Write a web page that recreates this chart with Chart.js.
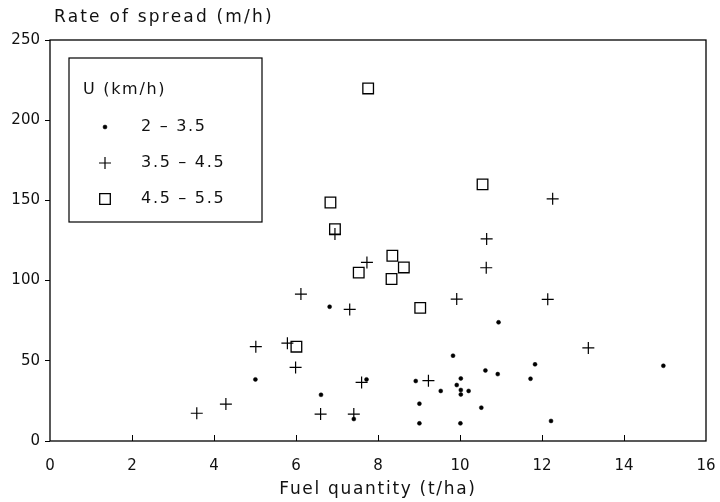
<!DOCTYPE html>
<html>
<head>
<meta charset="utf-8">
<script src="https://cdn.jsdelivr.net/npm/chart.js@4"></script>
<style>
  html, body { margin: 0; padding: 0; background: #fff; }
  #grafica { display: block; }
</style>
</head>
<body>
<canvas id="grafica" width="720" height="502"></canvas>
<script>
/* ---- datos ---- */
// U 2 - 3.5 km/h (puntos)
let puntosX = [6.82, 10.94, 9.83, 14.96, 11.83, 10.62, 10.92, 7.72, 5.01, 11.72, 8.92, 10.02,
               9.92, 9.53, 10.02, 10.21, 10.02, 6.61, 9.01, 10.52, 12.22, 9.01, 10.01, 7.41];
let puntosY = [83.7, 74, 53.2, 46.9, 47.8, 44, 41.7, 38.4, 38.4, 38.8, 37.4, 39,
               34.9, 31.2, 31.8, 31.2, 29, 28.8, 23.3, 20.8, 12.5, 11, 11, 13.7];

// U 3.5 - 4.5 km/h (cruces)
let crucesX = [12.26, 10.65, 7.73, 10.64, 6.12, 9.92, 12.14, 7.31, 5.02, 5.79, 13.13, 5.99,
               7.6, 9.23, 4.29, 3.58, 6.6, 7.41, 6.95];
let crucesY = [151, 126, 111.3, 108, 91.6, 88.5, 88.3, 82, 58.8, 61, 58, 45.9,
               36.5, 37.6, 23, 17.3, 16.8, 16.8, 129];

// U 4.5 - 5.5 km/h (cuadrados)
let cuadradosX = [7.76, 10.55, 6.84, 6.95, 8.35, 8.63, 8.33, 9.03, 7.53, 6.01];
let cuadradosY = [219.8, 160, 148.7, 132, 115.5, 108.2, 101, 83, 105, 58.8];

let etiquetas = ['2 \u2013 3.5', '3.5 \u2013 4.5', '4.5 \u2013 5.5'];
let tituloLeyenda = 'U (km/h)';
let tituloX = 'Fuel quantity (t/ha)';
let tituloY = 'Rate of spread (m/h)';
let ticksX = [0, 2, 4, 6, 8, 10, 12, 14, 16];
let ticksY = [0, 50, 100, 150, 200, 250];

let fuente = '"DejaVu Sans", sans-serif';

function juntar(xs, ys) {
    return xs.map((x, i) => ({ x: x, y: ys[i] }));
}

/* ---- plugin: marco, ticks hacia dentro, titulos y leyenda ---- */
let marcoYLeyenda = {
    id: 'marcoYLeyenda',
    afterDatasetsDraw(chart) {
        let ctx = chart.ctx;
        let a = chart.chartArea;
        ctx.save();
        ctx.strokeStyle = '#000';
        ctx.lineWidth = 1.3;
        ctx.strokeRect(a.left, a.top, a.right - a.left, a.bottom - a.top);

        // ticks del eje x hacia dentro
        let sx = chart.scales.x;
        ctx.lineWidth = 1;
        ticksX.forEach(t => {
            if (t === 0 || t === 16) return;
            let px = Math.round(sx.getPixelForValue(t)) + 0.5;
            ctx.beginPath();
            ctx.moveTo(px, a.bottom);
            ctx.lineTo(px, a.bottom - 6);
            ctx.stroke();
        });

        // titulos de los ejes
        ctx.fillStyle = '#111';
        ctx.font = '17px ' + fuente;
        ctx.textBaseline = 'middle';
        ctx.letterSpacing = '2.2px';
        ctx.textAlign = 'left';
        ctx.fillText(tituloY, 54, 18);
        ctx.letterSpacing = '1.7px';
        ctx.textAlign = 'center';
        ctx.fillText(tituloX, (a.left + a.right) / 2, 490);

        // leyenda
        let lx = a.left + 19, ly = a.top + 18;
        ctx.lineWidth = 1.2;
        ctx.strokeRect(lx, ly, 193, 164);
        ctx.font = '16px ' + fuente;
        ctx.letterSpacing = '1.7px';
        ctx.textAlign = 'left';
        ctx.fillText(tituloLeyenda, lx + 14, ly + 32);
        chart.data.datasets.forEach((ds, i) => {
            let cy = ly + 69 + i * 36;
            ctx.fillStyle = ds.backgroundColor;
            ctx.strokeStyle = ds.borderColor;
            ctx.lineWidth = ds.borderWidth;
            Chart.helpers.drawPoint(ctx, {
                pointStyle: ds.pointStyle,
                radius: ds.pointRadius,
                borderWidth: ds.borderWidth
            }, lx + 36, cy);
            ctx.fillStyle = '#111';
            ctx.fillText(etiquetas[i], lx + 72, cy);
        });
        ctx.restore();
    }
};

let datos = {
    datasets: [
        {
            label: etiquetas[0],
            data: juntar(puntosX, puntosY),
            pointStyle: 'circle',
            pointRadius: 2,
            backgroundColor: '#000',
            borderColor: '#000',
            borderWidth: 0.5
        },
        {
            label: etiquetas[1],
            data: juntar(crucesX, crucesY),
            pointStyle: 'cross',
            pointRadius: 6,
            backgroundColor: '#000',
            borderColor: '#000',
            borderWidth: 1.2
        },
        {
            label: etiquetas[2],
            data: juntar(cuadradosX, cuadradosY),
            pointStyle: 'rect',
            pointRadius: 7.5,
            backgroundColor: 'rgba(0,0,0,0)',
            borderColor: '#000',
            borderWidth: 1.3
        }
    ]
};

let opciones = {
    responsive: false,
    animation: false,
    layout: { padding: { left: 0, top: 40, right: 14, bottom: 0 } },
    scales: {
        x: {
            type: 'linear',
            min: 0,
            max: 16,
            afterFit(scale) {
                scale.height = 61;
                scale.paddingLeft = 0;
                scale.paddingRight = 0;
            },
            afterBuildTicks(scale) { scale.ticks = ticksX.map(v => ({ value: v })); },
            grid: { drawOnChartArea: false, drawTicks: false },
            border: { display: false },
            ticks: {
                padding: 16,
                color: '#111',
                font: { family: fuente, size: 15 }
            }
        },
        y: {
            type: 'linear',
            min: 0,
            max: 250,
            afterFit(scale) {
                scale.width = 50;
                scale.paddingTop = 0;
                scale.paddingBottom = 0;
            },
            afterBuildTicks(scale) { scale.ticks = ticksY.map(v => ({ value: v })); },
            grid: { drawOnChartArea: false, drawTicks: true, tickLength: 5, color: '#000' },
            border: { display: false },
            ticks: {
                padding: 5,
                color: '#111',
                font: { family: fuente, size: 15 }
            }
        }
    },
    plugins: {
        legend: { display: false },
        tooltip: { enabled: false }
    }
};

let miGrafica = new Chart(document.getElementById('grafica'), {
    type: 'scatter',
    data: datos,
    options: opciones,
    plugins: [marcoYLeyenda]
});
</script>
</body>
</html>
